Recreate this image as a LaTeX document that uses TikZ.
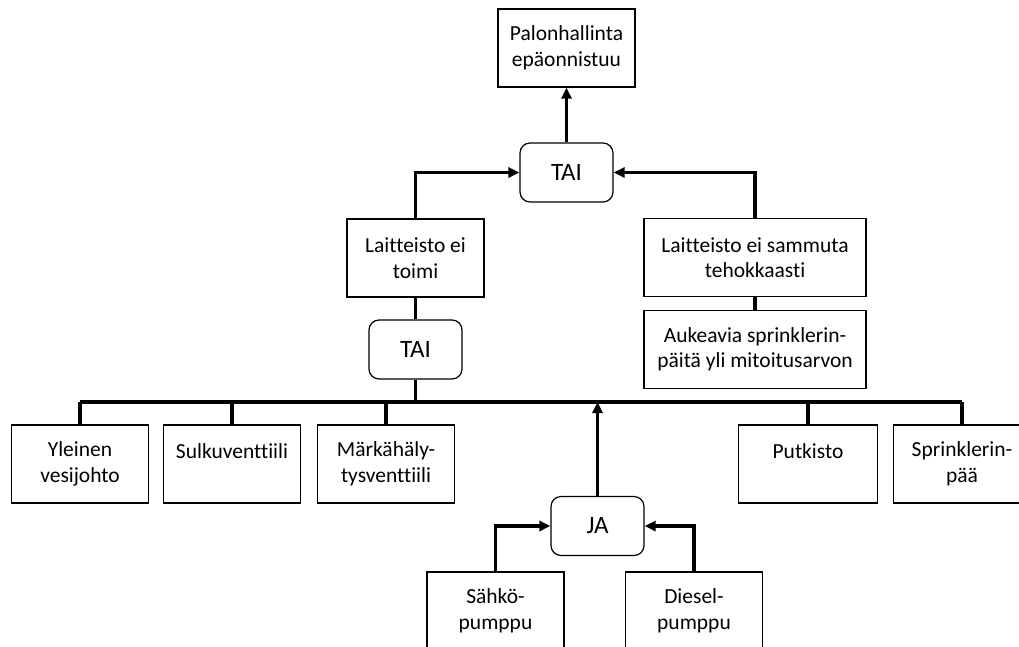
\documentclass[tikz,border=0pt]{standalone}
\usepackage{fontspec}
\setmainfont{Carlito}[Ligatures=NoCommon]
\usetikzlibrary{arrows.meta}

\begin{document}
\begin{tikzpicture}[x=1pt, y=-1pt,
    box/.style={draw, line width=1.2pt, minimum width=137pt, minimum height=78pt,
        align=center, inner sep=0pt, font=\fontsize{21.5}{25.5}\selectfont},
    gate/.style={draw, line width=1.2pt, rounded corners=10pt, minimum width=93pt,
        minimum height=59pt, inner sep=0pt, font=\fontsize{25}{30}\selectfont},
    link/.style={line width=3.4pt},
    arr/.style={link, -{Triangle[length=11pt, width=10pt]}}]
    \clip (0,0) rectangle (1019,646);
    % top event and gates
    \node[box] (top) at (566.5,48) {Palonhallinta\\epäonnistuu};
    \node[gate] (tai1) at (566.5,172.5) {TAI};
    \node[box] (toimi) at (415.5,258) {Laitteisto ei\\toimi};
    \node[box, minimum width=222pt] (sammuta) at (755,257.5) {Laitteisto ei sammuta\\tehokkaasti};
    \node[box, minimum width=222pt] (aukeavia) at (755,349.5) {Aukeavia sprinklerin-\\päitä yli mitoitusarvon};
    \node[gate] (tai2) at (415.5,349.5) {TAI};
    % basic events
    \node[box] (yleinen) at (80,464) {Yleinen\\vesijohto};
    \node[box] (sulku) at (232,464) {Sulkuventtiili\\~};
    \node[box] (marka) at (386,464) {Märkähäly-\\tysventtiili};
    \node[box, minimum width=139pt] (putki) at (808,464) {Putkisto\\~};
    \node[box] (sprink) at (962,464) {Sprinklerin-\\pää};
    \node[gate] (ja) at (597.5,526) {JA};
    \node[box] (sahko) at (495.5,611) {Sähkö-\\pumppu};
    \node[box] (diesel) at (694,611) {Diesel-\\pumppu};
    \coordinate (busl) at (yleinen.north |- 0,402);
    \coordinate (busr) at (sprink.north |- 0,402);
    % connectors
    \draw[arr] (tai1.north) -- (top.south);
    \draw[arr] (toimi.north) |- (tai1.west);
    \draw[arr] (sammuta.north) |- (tai1.east);
    \draw[link] (aukeavia.north) -- (sammuta.south);
    \draw[link] (tai2.north) -- (toimi.south);
    \draw[link] (tai2.south) -- (tai2 |- busl);
    \draw[link] (busl) -- (busr);
    \foreach \n in {yleinen,sulku,marka,putki,sprink}
        \draw[link] (\n.north) -- (\n |- busl);
    \draw[arr] (ja.north) -- (ja |- busl);
    \draw[arr] (sahko.north) |- (ja.west);
    \draw[arr] (diesel.north) |- (ja.east);
\end{tikzpicture}
\end{document}
